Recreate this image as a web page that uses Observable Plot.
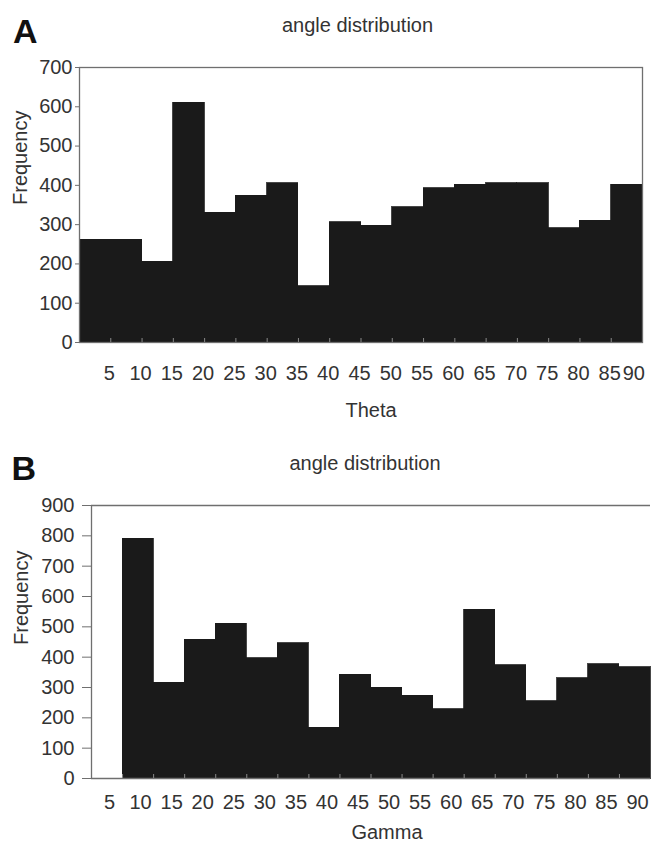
<!DOCTYPE html>
<html><head><meta charset="utf-8">
<script src="https://cdn.jsdelivr.net/npm/d3@7"></script>
<script src="https://cdn.jsdelivr.net/npm/@observablehq/plot@0.6"></script>
<style>
html,body{margin:0;padding:0;background:#fff;}
#wrap{position:relative;width:652px;height:843px;overflow:hidden;background:#fff;}
#wrap svg{display:block;}
</style></head><body><div id="wrap"></div>
<script>
// Bin starts (degrees), each bin is 5 degrees wide
const binStart = [0,5,10,15,20,25,30,35,40,45,50,55,60,65,70,75,80,85];
const binWidth = 5;
// Panel A: Theta
const thetaFreq = [262,262,205,610,330,373,405,143,306,297,344,393,402,406,406,291,310,402];
// Panel B: Gamma
const gammaFreq = [0,790,315,458,510,396,446,167,342,299,272,229,557,373,254,331,377,366];
// Tick labels
const xTickLabels = [5,10,15,20,25,30,35,40,45,50,55,60,65,70,75,80,85,90];
const thetaYTicks = [0,100,200,300,400,500,600,700];
const gammaYTicks = [0,100,200,300,400,500,600,700,800,900];

const FONT = "'Liberation Sans', Arial, Helvetica, sans-serif";
const BAR = "#1a1a1a";
const FRAME = "#6f6f6f";

function rows(freq) {
  return binStart.map((s, i) => ({start: s, end: s + binWidth, freq: freq[i]})).filter(d => d.freq > 0);
}

function panel(cfg) {
  const marks = [
    Plot.rectY(rows(cfg.freq), {x1: "start", x2: "end", y: "freq", fill: BAR, stroke: BAR, strokeWidth: 0.8, shapeRendering: "crispEdges"}),
    // inner tick marks at bin boundaries
    Plot.axisX({ticks: xTickLabels.slice(0, -1), tickSize: 4, dy: -4, tickFormat: () => "", label: null, stroke: "#8a8a8a"}),
    // x tick labels
    Plot.axisX({ticks: xTickLabels.slice(0, -1), tickSize: 0, tickPadding: cfg.xPad, dx: cfg.xLabelDx, fontSize: 20, label: null}),
    Plot.axisX({ticks: xTickLabels.slice(-1), tickSize: 0, tickPadding: cfg.xPad, dx: cfg.lastDx, textAnchor: cfg.lastAnchor, fontSize: 20, label: null}),
    Plot.axisY({ticks: cfg.yTicks, tickSize: cfg.yTickSize, tickPadding: cfg.yPad, fontSize: 20, label: null, stroke: FRAME}),
    ...cfg.frameMarks,
    Plot.text([cfg.letter], {text: d => d, frameAnchor: "top-left", lineAnchor: "middle", textAnchor: "start", dx: cfg.letterDx, dy: cfg.letterDy, fontSize: 34, fontWeight: "bold", fill: "#111"}),
    Plot.text(["angle distribution"], {text: d => d, frameAnchor: "top", lineAnchor: "middle", dx: cfg.titleDx, dy: cfg.titleDy, fontSize: 20}),
    Plot.text(["Frequency"], {text: d => d, frameAnchor: "left", lineAnchor: "middle", rotate: -90, dx: cfg.yLabelDx, dy: cfg.yLabelDy, fontSize: 20}),
    Plot.text([cfg.xLabel], {text: d => d, frameAnchor: "bottom", lineAnchor: "middle", dx: cfg.xLabelDx2, dy: cfg.xLabelDy, fontSize: 20})
  ];
  return Plot.plot({
    width: 652,
    height: cfg.height,
    marginLeft: cfg.ml, marginRight: cfg.mr, marginTop: cfg.mt, marginBottom: cfg.mb,
    x: {domain: [0, 90]},
    y: {domain: [0, cfg.yMax]},
    style: {fontFamily: FONT, color: "#333", background: "#fff", overflow: "visible"},
    marks
  });
}

const A = panel({
  freq: thetaFreq, yMax: 700, yTicks: thetaYTicks,
  height: 425, ml: 79, mr: 10, mt: 67, mb: 83,
  xPad: 23, xLabelDx: -1.5, lastDx: 2.5, lastAnchor: "end",
  yTickSize: 4, yPad: 3,
  frameMarks: [Plot.frame({stroke: FRAME, strokeWidth: 1.3})],
  letter: "A", letterDx: -66.5, letterDy: -35,
  titleDx: -3.5, titleDy: -42,
  yLabelDx: -59, yLabelDy: 0,
  xLabel: "Theta", xLabelDx2: 10, xLabelDy: 68
});

const B = panel({
  freq: gammaFreq, yMax: 900, yTicks: gammaYTicks,
  height: 418, ml: 91, mr: 2, mt: 80, mb: 65,
  xPad: 16, xLabelDx: -13, lastDx: -13, lastAnchor: "middle",
  yTickSize: 9, yPad: 8,
  frameMarks: [
    Plot.ruleY([900], {stroke: FRAME, strokeWidth: 1.3}),
    Plot.ruleY([0], {stroke: FRAME, strokeWidth: 1.3}),
    Plot.ruleX([0], {stroke: FRAME, strokeWidth: 1.3})
  ],
  letter: "B", letterDx: -80, letterDy: -36,
  titleDx: -6, titleDy: -42,
  yLabelDx: -70, yLabelDy: 3,
  xLabel: "Gamma", xLabelDx2: 16, xLabelDy: 54
});

const wrap = document.getElementById("wrap");
wrap.appendChild(A);
wrap.appendChild(B);
</script>
</body></html>
